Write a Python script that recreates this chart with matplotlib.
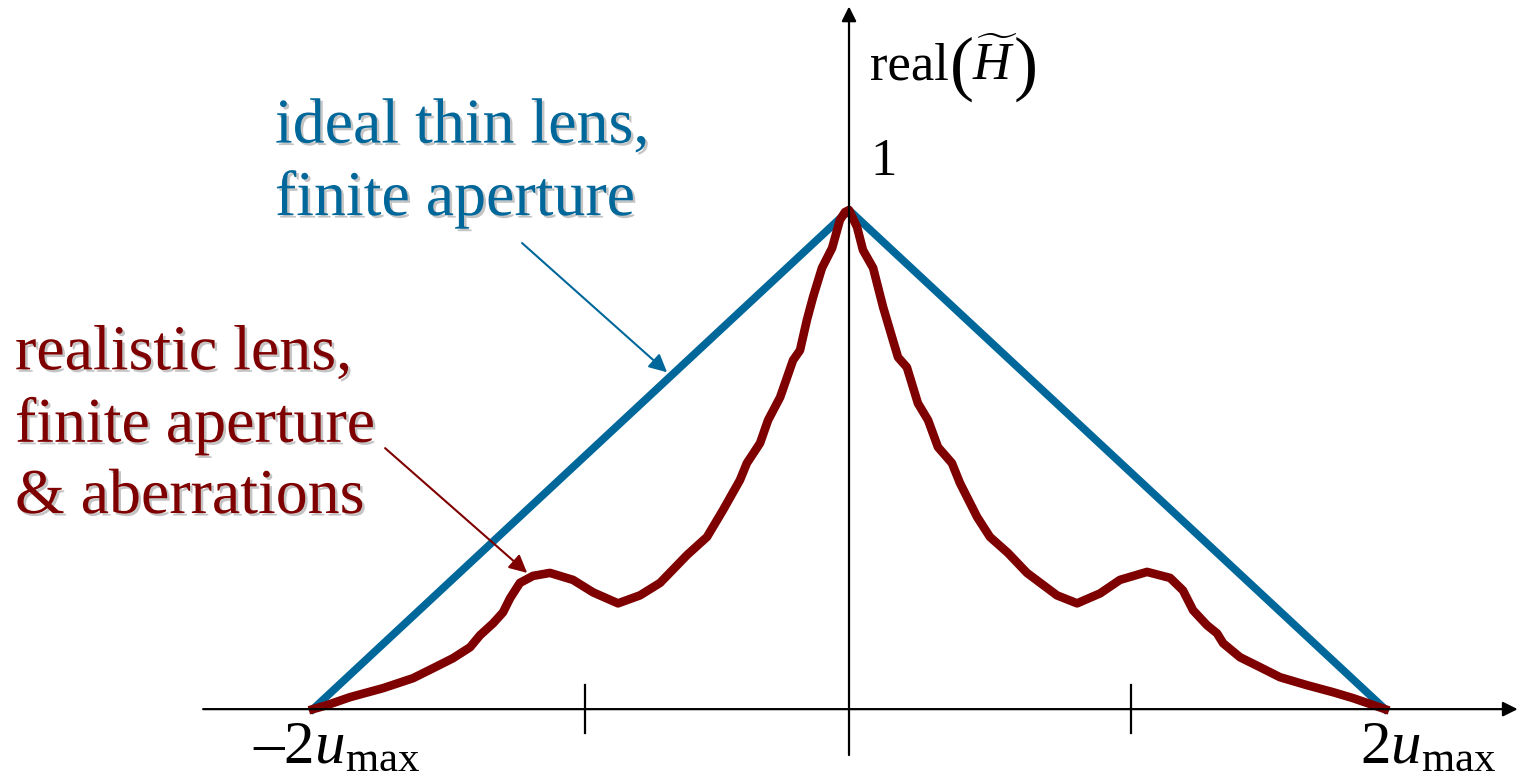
import numpy as np
import matplotlib
matplotlib.use('Agg')
import matplotlib.pyplot as plt
import matplotlib.patheffects as pe

plt.rcParams['font.family'] = ['Liberation Serif', 'DejaVu Serif']
plt.rcParams['mathtext.fontset'] = 'custom'
plt.rcParams['mathtext.rm'] = 'Liberation Serif'
plt.rcParams['mathtext.it'] = 'Liberation Serif:italic'

# ideal thin lens: triangle transfer function (x in units of u_max)
ideal_x = [-2.0, 0.0, 2.0]
ideal_y = [0.0, 1.0, 0.0]

# realistic lens with aberrations
real_x = [-2.000, -1.948, -1.862, -1.739, -1.627, -1.552, -1.478, -1.414, -1.377,
          -1.328, -1.291, -1.265, -1.228, -1.179, -1.116, -1.030, -0.955, -0.862,
          -0.780, -0.705, -0.604, -0.530, -0.470, -0.407, -0.381, -0.332, -0.302,
          -0.257, -0.209, -0.183, -0.157, -0.134, -0.101, -0.063, -0.034, -0.015,
          0.000, 0.030, 0.052, 0.090, 0.127, 0.164, 0.183, 0.216, 0.257, 0.295,
          0.332, 0.384, 0.414, 0.478, 0.526, 0.593, 0.664, 0.776, 0.851, 0.937,
          1.011, 1.112, 1.198, 1.246, 1.284, 1.336, 1.373, 1.396, 1.459, 1.534,
          1.608, 1.709, 1.806, 1.881, 2.000]
real_y = [0.000, 0.008, 0.024, 0.042, 0.062, 0.082, 0.102, 0.124, 0.148,
          0.172, 0.194, 0.222, 0.253, 0.267, 0.273, 0.259, 0.234, 0.212,
          0.228, 0.253, 0.309, 0.345, 0.399, 0.459, 0.493, 0.533, 0.579,
          0.625, 0.699, 0.719, 0.780, 0.826, 0.884, 0.924, 0.980, 0.996,
          1.000, 0.966, 0.920, 0.884, 0.806, 0.739, 0.705, 0.685, 0.613, 0.579,
          0.525, 0.493, 0.453, 0.385, 0.345, 0.313, 0.273, 0.228, 0.212, 0.232,
          0.259, 0.275, 0.263, 0.238, 0.198, 0.168, 0.152, 0.132, 0.104, 0.084,
          0.064, 0.048, 0.034, 0.022, 0.000]

tick_x = [-0.985, 1.052]

blue = '#00679a'
red = '#7f0000'

fig = plt.figure(figsize=(15.19, 7.83), dpi=100)
ax = fig.add_axes([0, 0, 1, 1])
ax.set_xlim(-3.168, 2.5)
ax.set_ylim(-0.148, 1.421)
ax.axis('off')

# axes with arrow heads
ax.annotate('', xy=(2.495, 0), xytext=(-2.41, 0),
            arrowprops=dict(arrowstyle='-|>', color='black', lw=1.6,
                            mutation_scale=22, shrinkA=0, shrinkB=0))
ax.annotate('', xy=(0, 1.408), xytext=(0, -0.092),
            arrowprops=dict(arrowstyle='-|>', color='black', lw=1.6,
                            mutation_scale=22, shrinkA=0, shrinkB=0))
for tx in tick_x:
    ax.plot([tx, tx], [-0.048, 0.048], color='black', lw=1.6)

ax.plot(ideal_x, ideal_y, color=blue, lw=5.6, solid_joinstyle='miter')
ax.plot(real_x, real_y, color=red, lw=6.2, solid_joinstyle='round')

shadow = [pe.SimplePatchShadow(offset=(1.8, -1.8), shadow_rgbFace='#c4c4c4', alpha=1.0), pe.Normal()]

# multi-line text: baseline refers to the last line
ax.text(-2.142, 0.990, 'ideal thin lens,\nfinite aperture', color=blue, fontsize=46,
        va='baseline', ha='left', linespacing=1.3, path_effects=shadow)
ax.text(-3.112, 0.393, 'realistic lens,\nfinite aperture\n& aberrations', color=red,
        fontsize=46, va='baseline', ha='left', linespacing=1.3, path_effects=shadow)

ax.annotate('', xy=(-0.679, 0.675), xytext=(-1.220, 0.934),
            arrowprops=dict(arrowstyle='-|>', color=blue, lw=1.5,
                            mutation_scale=27, shrinkA=0, shrinkB=0))
ax.annotate('', xy=(-1.201, 0.273), xytext=(-1.731, 0.523),
            arrowprops=dict(arrowstyle='-|>', color=red, lw=1.5,
                            mutation_scale=27, shrinkA=0, shrinkB=0))

ax.text(-2.224, -0.108, '\u2013$2u_{\\mathrm{max}}$', fontsize=44, va='baseline', ha='left')
ax.text(1.907, -0.108, '$2u_{\\mathrm{max}}$', fontsize=44, va='baseline', ha='left')
ax.text(0.078, 1.070, '1', fontsize=38, va='baseline', ha='left')

# real(H~) with tall parentheses
ax.text(0.078, 1.261, 'real', fontsize=38, va='baseline', ha='left')
ax.text(0.376, 1.283, '(', fontsize=52, va='center', ha='left')
ax.text(0.458, 1.261, r'$\widetilde{H}$', fontsize=38, va='baseline', ha='left')
ax.text(0.616, 1.283, ')', fontsize=52, va='center', ha='left')

fig.savefig('out.png', dpi=100)
